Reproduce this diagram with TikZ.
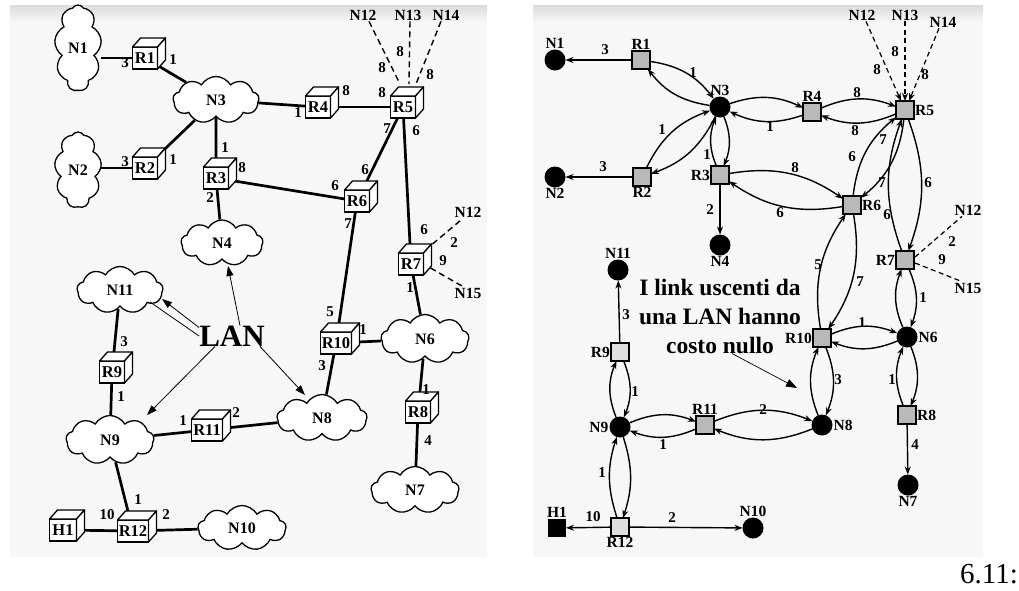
\documentclass[tikz,border=0pt]{standalone}
\usepackage{fontspec}
\setmainfont{Liberation Serif}
\usetikzlibrary{shapes.symbols,arrows.meta}
\pgfdeclarelayer{paper}
\pgfdeclarelayer{bg}
\pgfsetlayers{paper,bg,main}
\newcounter{lb}
\newcommand\lab[4][costl]{\stepcounter{lb}\node[#1] (lb\arabic{lb}) at (#2,#3) {#4};}
\newcommand\cubefaces[1]{%
  \draw[cubeline] (#1.north west) -- ++(8pt,9pt) -- ([xshift=8pt,yshift=9pt]#1.north east) -- (#1.north east) -- cycle;
  \draw[cubeline] (#1.north east) -- ([xshift=8pt,yshift=9pt]#1.north east) -- ([xshift=8pt,yshift=9pt]#1.south east) -- (#1.south east) -- cycle;}
\tikzset{
  netcloud/.style={cloud, cloud puffs=9, cloud puff arc=120, cloud ignores aspect, draw, line width=1.3pt, fill=white, inner sep=0pt, font=\bfseries\fontsize{16}{18}\selectfont},
  cubebox/.style={draw, line width=1.3pt, fill=white, inner sep=0pt, outer sep=0pt, minimum width=25pt, minimum height=22pt, font=\bfseries\fontsize{16.5}{18}\selectfont},
  cubeline/.style={line width=1.3pt, fill=white, line join=round},
  lk/.style={line width=2.7pt},
  costl/.style={font=\bfseries\fontsize{15}{17}\selectfont, inner sep=0pt},
  extlab/.style={font=\bfseries\fontsize{15.5}{17}\selectfont, inner sep=1pt},
  dsh/.style={line width=1.4pt, dash pattern=on 6pt off 4pt},
  rdsh/.style={line width=1.2pt, dash pattern=on 5pt off 3.5pt},
  lanarr/.style={line width=0.8pt, -{Triangle[length=10pt,width=7pt]}},
  netdot/.style={circle, fill=black, minimum size=21pt, inner sep=0pt, outer sep=0pt},
  rtbox/.style={rectangle, draw, line width=1.4pt, fill=gray!55, minimum size=18pt, inner sep=0pt, outer sep=0pt},
  nl/.style={font=\bfseries\fontsize{15.5}{17}\selectfont, inner sep=1pt},
  darr/.style={line width=1.4pt, -{Stealth[length=8pt,width=6pt]}},
  lens/.style={darr, bend left=#1},
  lens/.default=22
}
\begin{document}
\begin{tikzpicture}[x=1pt,y=-1pt]
\useasboundingbox (0,0) rectangle (1019,590);
\begin{pgfonlayer}{paper}
  \fill[black!3] (10,5) rectangle (487,557);
  \shade[top color=black!14, bottom color=black!3] (10,5) rectangle (487,22);
  \fill[black!3] (533,5) rectangle (983,557);
  \shade[top color=black!14, bottom color=black!3] (533,5) rectangle (983,22);
\end{pgfonlayer}

% ================= LEFT: network =================
\node[netcloud, minimum width=47pt, minimum height=86pt] (lN1) at (78,48) {N1};
\node[netcloud, minimum width=47pt, minimum height=76pt] (lN2) at (78,170) {N2};
\node[netcloud, minimum width=86pt, minimum height=47pt] (lN3) at (216,100) {N3};
\node[netcloud, minimum width=82pt, minimum height=46pt] (lN4) at (222,243) {N4};
\node[netcloud, minimum width=86pt, minimum height=47pt] (lN11) at (120,290) {N11};
\node[netcloud, minimum width=88pt, minimum height=49pt] (lN6) at (425,339) {N6};
\node[netcloud, minimum width=90pt, minimum height=47pt] (lN8) at (322,418) {N8};
\node[netcloud, minimum width=88pt, minimum height=49pt] (lN9) at (110,440) {N9};
\node[netcloud, minimum width=88pt, minimum height=47pt] (lN7) at (415,490) {N7};
\node[netcloud, minimum width=88pt, minimum height=45pt] (lN10) at (242,528) {N10};

\node[cubebox] (lR1) at (145,58) {R1}; \cubefaces{lR1}
\node[cubebox] (lR2) at (145,168) {R2}; \cubefaces{lR2}
\node[cubebox] (lR3) at (216,178) {R3}; \cubefaces{lR3}
\node[cubebox] (lR4) at (318,107) {R4}; \cubefaces{lR4}
\node[cubebox] (lR5) at (403,107) {R5}; \cubefaces{lR5}
\node[cubebox] (lR6) at (357,201) {R6}; \cubefaces{lR6}
\node[cubebox] (lR7) at (411,264) {R7}; \cubefaces{lR7}
\node[cubebox, minimum width=31pt] (lR10) at (336,343) {R10}; \cubefaces{lR10}
\node[cubebox] (lR8) at (418,412) {R8}; \cubefaces{lR8}
\node[cubebox] (lR9) at (112,372) {R9}; \cubefaces{lR9}
\node[cubebox, minimum width=31pt] (lR11) at (207,430) {R11}; \cubefaces{lR11}
\node[cubebox, minimum width=31pt] (lR12) at (133,531) {R12}; \cubefaces{lR12}
\node[cubebox, minimum width=27pt] (lH1) at (63,530) {H1}; \cubefaces{lH1}

\node[extlab] (lN12t) at (363,15) {N12};
\node[extlab] (lN13t) at (408,15) {N13};
\node[extlab] (lN14t) at (446,15) {N14};
\node[extlab] (lN12s) at (468,212) {N12};
\node[extlab] (lN15s) at (468,293) {N15};

\begin{pgfonlayer}{bg}
  \draw[lk] (lR1.west) -- (lR1.west -| lN1.east);
  \draw[lk] (lR2.west) -- (lR2.west -| lN2.east);
  \draw[lk] (lR1) -- (lN3);
  \draw[lk] (lR2) -- (lN3);
  \draw[lk] (lN3) -- (lR3);
  \draw[lk] (lR3) -- (lN4);
  \draw[lk] (lN3) -- (lR4);
  \draw[lk] (lR4) -- (lR5);
  \draw[lk] (lR5) -- (lR6);
  \draw[lk] (lR3) -- (lR6);
  \draw[lk] (lR5) -- (lR7);
  \draw[lk] (lR6) -- (lR10);
  \draw[lk] (lR7) -- (lN6);
  \draw[lk] (lR10) -- (lN6);
  \draw[lk] (lR10) -- (lN8);
  \draw[lk] (lN6) -- (lR8);
  \draw[lk] (lR8) -- (lN7);
  \draw[lk] (lN11) -- (lR9);
  \draw[lk] (lR9) -- (lN9);
  \draw[lk] (lN9) -- (lR11);
  \draw[lk] (lR11) -- (lN8);
  \draw[lk] (lN9) -- (lR12);
  \draw[lk] (lH1) -- (lR12);
  \draw[lk] (lR12) -- (lN10);
\end{pgfonlayer}

\draw[dsh] ([xshift=6pt]lN12t.south) -- ([xshift=-3pt,yshift=12pt]lR5.north);
\draw[dsh] ([xshift=2pt]lN13t.south) -- ([xshift=6pt,yshift=12pt]lR5.north);
\draw[dsh] ([xshift=-5pt]lN14t.south) -- ([xshift=13pt,yshift=12pt]lR5.north);
\draw[dsh] ([xshift=9pt,yshift=9pt]lR7.north east) -- ([xshift=-5pt]lN12s.south);
\draw[dsh] ([xshift=7pt,yshift=-4pt]lR7.east) -- ([xshift=-5pt]lN15s.north);

% left costs
\lab{125}{63}{3} \lab{173}{60}{1}
\lab{125}{162}{3} \lab{173}{160}{1}
\lab{225}{148}{1} \lab{242}{168}{8} \lab{210}{198}{2}
\lab{298}{113}{1} \lab{346}{91}{8} \lab{382}{93}{8}
\lab{400}{52}{8} \lab{382}{68}{8} \lab{430}{75}{8}
\lab{387}{129}{7} \lab{365}{170}{6}
\lab{416}{131}{6} \lab{424}{230}{6}
\lab{335}{186}{6}
\lab{348}{224}{7} \lab{330}{312}{5}
\lab{454}{243}{2} \lab{443}{261}{9} \lab{410}{288}{1}
\lab{363}{330}{1} \lab{322}{366}{3}
\lab{426}{390}{1} \lab{428}{441}{4}
\lab{124}{342}{3} \lab{121}{397}{1}
\lab{183}{421}{1} \lab{236}{413}{2}
\lab{138}{500}{1} \lab{107}{515}{10} \lab{166}{515}{2}

% LAN annotation
\node[font=\bfseries\fontsize{31}{33}\selectfont, inner sep=0pt] (LAN) at (232,336) {LAN};
\coordinate (a11h) at (162,299);
\coordinate (a11t) at (150,302);
\coordinate (a4) at (228,266);
\coordinate (a9) at (147,415);
\coordinate (a8) at (305,395);
\draw[lanarr] ([yshift=-2pt]LAN.north west) -- (a11h);
\draw[line width=0.8pt] (LAN.west) -- (a11t);
\draw[lanarr] ([xshift=8pt]LAN.north) -- (a4);
\draw[lanarr] ([xshift=-17pt]LAN.south) -- (a9);
\draw[lanarr] ([xshift=28pt]LAN.south) -- (a8);

% ================= RIGHT: directed graph =================
\node[netdot, label={[nl]above:N1}] (rN1) at (555,60) {};
\node[rtbox, label={[nl]above:R1}] (rR1) at (641,60) {};
\node[netdot, label={[nl]above:N3}] (rN3) at (720,107) {};
\node[rtbox, label={[nl]above:R4}] (rR4) at (812,112) {};
\node[rtbox, label={[nl]right:R5}] (rR5) at (905,110) {};
\node[netdot, label={[nl]below:N2}] (rN2) at (555,177) {};
\node[rtbox, label={[nl]below:R2}] (rR2) at (642,177) {};
\node[rtbox, label={[nl]left:R3}] (rR3) at (720,175) {};
\node[rtbox, label={[nl]right:R6}] (rR6) at (852,205) {};
\node[netdot, label={[nl]below:N4}] (rN4) at (720,245) {};
\node[rtbox, label={[nl]left:R7}] (rR7) at (905,260) {};
\node[netdot, label={[nl]above:N11}] (rN11) at (618,270) {};
\node[rtbox, fill=gray!25, label={[nl]left:R9}] (rR9) at (620,352) {};
\node[rtbox, label={[nl]left:R10}] (rR10) at (822,338) {};
\node[netdot, label={[nl]right:N6}] (rN6) at (907,337) {};
\node[rtbox, label={[nl]right:R8}] (rR8) at (907,415) {};
\node[netdot, label={[nl]right:N8}] (rN8) at (822,425) {};
\node[netdot, label={[nl]left:N9}] (rN9) at (620,427) {};
\node[rtbox, label={[nl]above:R11}] (rR11) at (705,425) {};
\node[netdot, label={[nl]below:N7}] (rN7) at (908,485) {};
\node[rectangle, fill=black, minimum size=18pt, inner sep=0pt, outer sep=0pt, label={[nl]above:H1}] (rH1) at (557,528) {};
\node[rtbox, fill=gray!25, label={[nl]below:R12}] (rR12) at (620,527) {};
\node[netdot, label={[nl]above:N10}] (rN10) at (753,528) {};

\node[nl] (rN12t) at (862,15) {N12};
\node[nl] (rN13t) at (905,15) {N13};
\node[nl] (rN14t) at (943,22) {N14};
\node[nl] (rN12s) at (968,210) {N12};
\node[nl] (rN15s) at (968,288) {N15};

% lenses
\draw[lens] (rR1) to (rN3); \draw[lens] (rN3) to (rR1);
\draw[lens] (rR2) to (rN3); \draw[lens] (rN3) to (rR2);
\draw[lens] (rN3) to (rR3); \draw[lens] (rR3) to (rN3);
\draw[lens] (rN3) to (rR4); \draw[lens] (rR4) to (rN3);
\draw[lens] (rR4) to (rR5); \draw[lens] (rR5) to (rR4);
\draw[lens] (rR5) to (rR6); \draw[lens] (rR6) to (rR5);
\draw[lens] (rR3) to (rR6); \draw[lens] (rR6) to (rR3);
\draw[lens=20] (rR5) to (rR7); \draw[lens=20] (rR7) to (rR5);
\draw[lens] (rR6) to (rR10); \draw[lens] (rR10) to (rR6);
\draw[lens] (rR10) to (rN6); \draw[lens] (rN6) to (rR10);
\draw[lens] (rR7) to (rN6); \draw[lens] (rN6) to (rR7);
\draw[lens] (rR10) to (rN8); \draw[lens] (rN8) to (rR10);
\draw[lens] (rN6) to (rR8); \draw[lens] (rR8) to (rN6);
\draw[lens] (rR9) to (rN9); \draw[lens] (rN9) to (rR9);
\draw[lens] (rN9) to (rR11); \draw[lens] (rR11) to (rN9);
\draw[lens] (rR11) to (rN8); \draw[lens] (rN8) to (rR11);
\draw[lens=18] (rN9) to (rR12); \draw[lens=18] (rR12) to (rN9);

% straight arrows
\draw[darr] (rR1) -- (rN1);
\draw[darr] (rR2) -- (rN2);
\draw[darr] (rR3) -- (rN4);
\draw[darr] (rR9) -- (rN11);
\draw[darr] (rR8) -- (rN7);
\draw[darr] (rR12) -- (rH1);
\draw[darr] (rR12) -- (rN10);

% dashed external links
\draw[darr, rdsh] ([xshift=4pt]rN12t.south) -- ([xshift=-4pt]rR5.north);
\draw[darr, rdsh] (rN13t.south) -- (rR5.north);
\draw[darr, rdsh] ([xshift=-4pt]rN14t.south) -- ([xshift=4pt]rR5.north);
\draw[rdsh] ([xshift=1pt,yshift=3pt]rR7.east) -- ([xshift=-6pt]rN12s.south);
\draw[rdsh] ([xshift=1pt,yshift=-3pt]rR7.east) -- ([xshift=-6pt]rN15s.north);

% right costs
\lab{605}{50}{3} \lab{693}{73}{1}
\lab{603}{167}{3} \lab{662}{130}{1}
\lab{707}{155}{1} \lab{770}{127}{1}
\lab{857}{93}{8} \lab{855}{131}{8}
\lab{895}{52}{8} \lab{877}{70}{8} \lab{925}{75}{8}
\lab{883}{140}{7} \lab{852}{157}{6} \lab{882}{183}{7}
\lab{795}{168}{8} \lab{780}{213}{6}
\lab{928}{183}{6} \lab{887}{215}{6}
\lab{710}{210}{2}
\lab{952}{242}{2} \lab{942}{260}{9}
\lab{818}{265}{5} \lab{860}{282}{7}
\lab{923}{298}{1} \lab{862}{323}{1}
\lab{626}{315}{3} \lab{635}{392}{1}
\lab{838}{380}{3} \lab{892}{380}{1}
\lab{763}{410}{2} \lab{663}{445}{1}
\lab{602}{473}{1}
\lab{593}{517}{10} \lab{672}{518}{2}
\lab{915}{445}{4}

% note
\node[align=center, font=\bfseries\fontsize{23.5}{29}\selectfont, inner sep=0pt] (note) at (720,316) {I link uscenti da\\una LAN hanno\\costo nullo};
\coordinate (noteend) at (797,388);
\draw[line width=0.7pt, -{Triangle[length=11pt,width=8pt]}] ([xshift=12pt]note.south) -- (noteend);

\node[anchor=base west, font=\fontsize{29}{30}\selectfont, inner sep=0pt] (fig) at (960,583) {6.11:};
\end{tikzpicture}
\end{document}
